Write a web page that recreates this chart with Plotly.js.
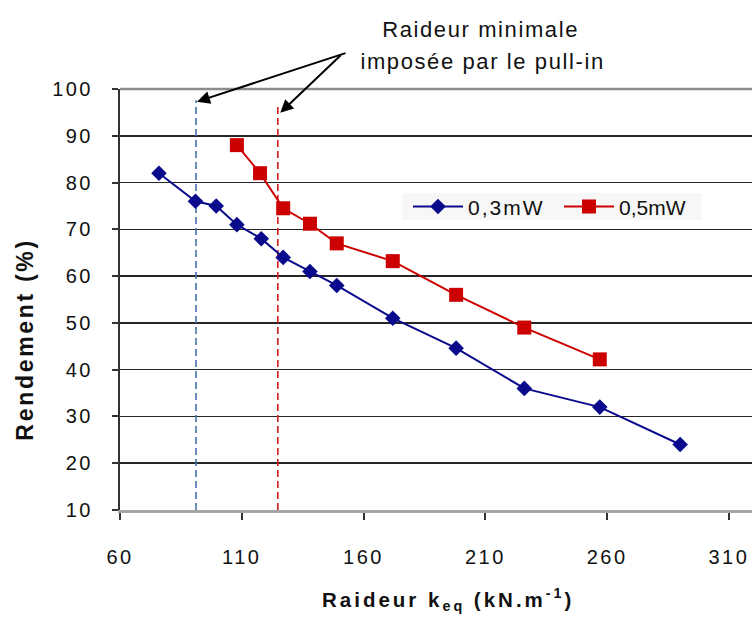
<!DOCTYPE html>
<html>
<head>
<meta charset="utf-8">
<script src="https://cdn.plot.ly/plotly-3.0.1.min.js"></script>
<style>
html,body{margin:0;padding:0;background:#fff;}
#chart{width:756px;height:618px;}
#chart .xtick text, #chart .ytick text, #chart text.xtick, #chart text.ytick{letter-spacing:2.5px;}
#chart .legendtext{letter-spacing:2px;}
#chart .legend .scrollbox{clip-path:none !important;}
#chart .annotation-text{letter-spacing:1.6px;}
#chart .annotation[data-index="4"] .annotation-text{letter-spacing:3px;}
#chart .annotation[data-index="5"] .annotation-text{letter-spacing:2.7px;}
</style>
</head>
<body>
<div id="chart"></div>
<script>
const seriesNames = ['0,3mW', '0,5mW'];
const x03 = [76, 91, 99.5, 108, 118, 127, 138, 149, 172, 198, 226, 257, 290];
const y03 = [82, 76, 75, 71, 68, 64, 61, 58, 51, 44.6, 36, 32, 24];
const x05 = [108, 117.5, 127, 138, 149, 172, 198, 226, 257];
const y05 = [88, 82, 74.5, 71.2, 67, 63.2, 56, 49, 42.2];
const pullinBlueX = [91.2, 91.2];
const pullinBlueY = [10, 97.6];
const pullinRedX = [124.8, 124.8];
const pullinRedY = [10, 96.5];
const xTicks = [60, 110, 160, 210, 260, 310];
const yTicks = [10, 20, 30, 40, 50, 60, 70, 80, 90, 100];
const noteLine1 = 'Raideur minimale';
const noteLine2 = 'imposée par le pull-in';
const xTitle = '<b>Raideur k<sub>eq</sub> (kN.m<sup>-1</sup>)</b>';
const yTitle = '<b>Rendement (%)</b>';

const font = 'Liberation Sans, Arial, sans-serif';

const traces = [
  {x: pullinBlueX, y: pullinBlueY, mode: 'lines', showlegend: false, hoverinfo: 'skip',
   line: {color: '#4472a8', width: 1.6, dash: '7px,4px'}},
  {x: pullinRedX, y: pullinRedY, mode: 'lines', showlegend: false, hoverinfo: 'skip',
   line: {color: '#d41c1c', width: 1.6, dash: '7px,4px'}},
  {x: x03, y: y03, name: seriesNames[0], mode: 'lines+markers', legend: 'legend',
   line: {color: '#0a0a8c', width: 2},
   marker: {symbol: 'diamond', size: 12, color: '#0a0a8c'}},
  {x: x05, y: y05, name: seriesNames[1], mode: 'lines+markers', legend: 'legend2',
   line: {color: '#cc0000', width: 2},
   marker: {symbol: 'square', size: 14, color: '#cc0000'}}
];

const legendCommon = {orientation: 'h', y: 0.72, xanchor: 'left', yanchor: 'middle',
  bgcolor: 'rgba(0,0,0,0)', font: {size: 21, color: '#111'}, itemwidth: 50};

const layout = {
  width: 756, height: 618,
  margin: {l: 120, r: 4, t: 89, b: 108, autoexpand: false},
  paper_bgcolor: '#fff', plot_bgcolor: '#fff',
  font: {family: font, color: '#111', size: 18},
  showlegend: true,
  legend: Object.assign({x: 0.4557}, legendCommon),
  legend2: Object.assign({x: 0.6946}, legendCommon),
  xaxis: {
    range: [60, 319.5], autorange: false, tickvals: xTicks, ticktext: xTicks.map(String),
    showgrid: false, zeroline: false,
    showline: true, linecolor: '#a6a6a6', linewidth: 2.5,
    ticks: 'outside', ticklen: 7, tickwidth: 2, tickcolor: '#333',
    ticklabelstandoff: 20,
    tickfont: {size: 20, color: '#111'}
  },
  yaxis: {
    range: [10, 100], autorange: false, tickvals: yTicks, ticktext: yTicks.map(String),
    showgrid: true, gridcolor: '#262626', gridwidth: 1.6, zeroline: false,
    showline: true, linecolor: '#333', linewidth: 2,
    ticks: 'outside', ticklen: 6, tickwidth: 2, tickcolor: '#333',
    ticklabelstandoff: 15,
    tickfont: {size: 20, color: '#111'}
  },
  shapes: [
    {type: 'line', xref: 'paper', yref: 'paper', x0: 0, x1: 1, y0: 1, y1: 1,
     line: {color: '#8c8c8c', width: 2.5}, layer: 'above'},
    {type: 'rect', xref: 'paper', yref: 'paper', x0: 0.446, x1: 0.921, y0: 0.689, y1: 0.753,
     fillcolor: '#f7f7f7', line: {width: 0}, layer: 'below'}
  ],
  annotations: [
    {text: noteLine1, xref: 'paper', yref: 'paper', x: 0.571, y: 1.141,
     xanchor: 'center', yanchor: 'middle', showarrow: false,
     font: {size: 22, color: '#111', family: font}},
    {text: noteLine2, xref: 'paper', yref: 'paper', x: 0.573, y: 1.065,
     xanchor: 'center', yanchor: 'middle', showarrow: false,
     font: {size: 22, color: '#111', family: font}},
    {x: 91.6, y: 97.3, xref: 'x', yref: 'y', text: '', showarrow: true,
     ax: 150, ay: -49, arrowhead: 2, arrowsize: 1.3, arrowwidth: 2, arrowcolor: '#000'},
    {x: 125.8, y: 94.9, xref: 'x', yref: 'y', text: '', showarrow: true,
     ax: 62, ay: -59, arrowhead: 2, arrowsize: 1.3, arrowwidth: 2, arrowcolor: '#000'},
    {text: xTitle, xref: 'paper', yref: 'paper', x: 0.519, y: -0.212,
     xanchor: 'center', yanchor: 'middle', showarrow: false,
     font: {size: 20.5, color: '#111', family: font}},
    {text: yTitle, xref: 'paper', yref: 'paper', x: -0.150, y: 0.404, textangle: -90,
     xanchor: 'center', yanchor: 'middle', showarrow: false,
     font: {size: 23, color: '#111', family: font}}
  ]
};

Plotly.newPlot('chart', traces, layout, {displayModeBar: false, staticPlot: true});
</script>
</body>
</html>
